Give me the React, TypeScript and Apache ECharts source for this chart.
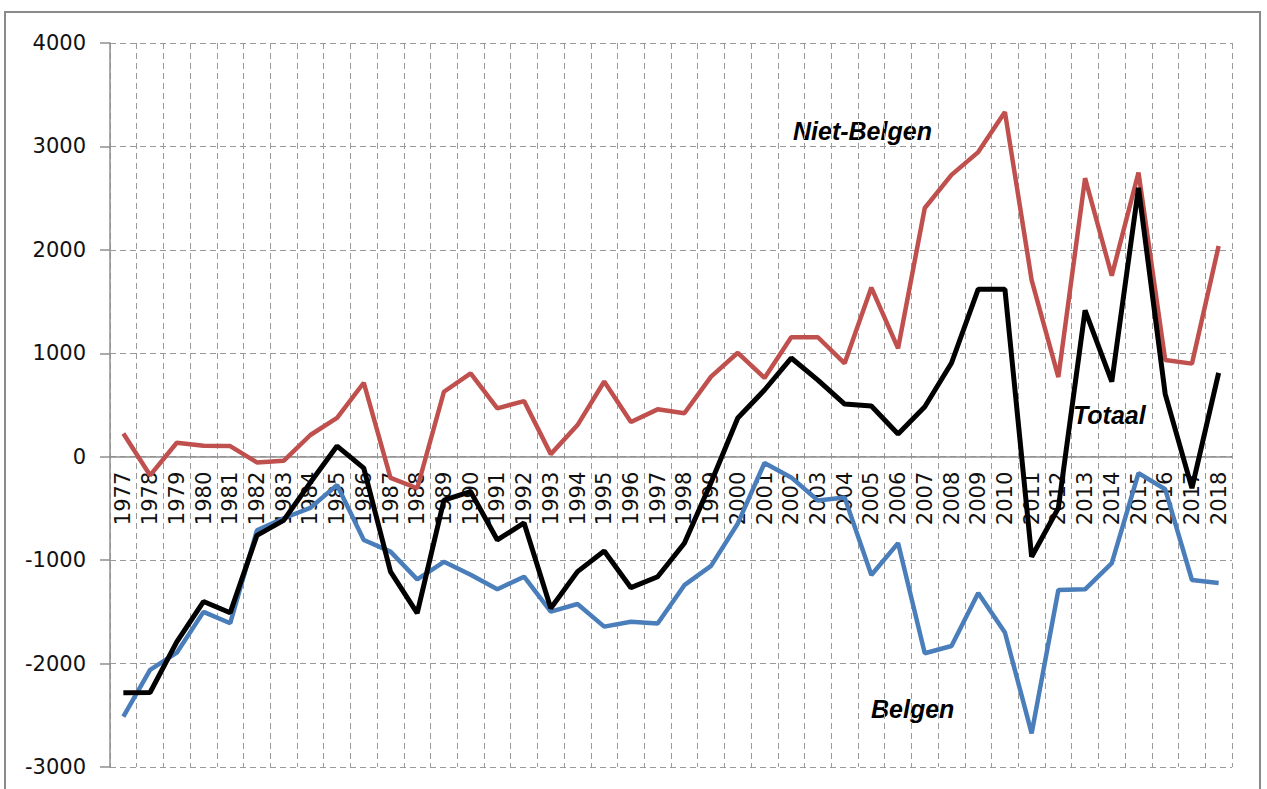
import React, { useEffect, useRef } from "react";
import * as echarts from "echarts";

const years = [
  "1977", "1978", "1979", "1980", "1981", "1982", "1983", "1984", "1985", "1986",
  "1987", "1988", "1989", "1990", "1991", "1992", "1993", "1994", "1995", "1996",
  "1997", "1998", "1999", "2000", "2001", "2002", "2003", "2004", "2005", "2006",
  "2007", "2008", "2009", "2010", "2011", "2012", "2013", "2014", "2015", "2016",
  "2017", "2018",
];

const nietBelgen = [
  225, -180, 135, 105, 103, -55, -40, 210, 375, 715,
  -205, -305, 628, 805, 468, 538, 25, 306, 727, 335,
  458, 420, 775, 1005, 762, 1155, 1155, 903, 1635, 1048,
  2405, 2725, 2945, 3333, 1708, 770, 2693, 1750, 2748, 935,
  900, 2037,
];

const belgen = [
  -2512, -2062, -1895, -1500, -1610, -712, -595, -495, -274, -805,
  -918, -1186, -1016, -1142, -1282, -1160, -1497, -1424, -1643, -1595,
  -1613, -1242, -1055, -645, -61, -200, -423, -395, -1144, -835,
  -1900, -1830, -1318, -1700, -2675, -1289, -1282, -1028, -158, -315,
  -1192, -1222,
];

const totaal = [
  -2282, -2280, -1790, -1400, -1508, -760, -615, -250, 103, -110,
  -1111, -1512, -419, -338, -805, -640, -1465, -1111, -912, -1266,
  -1160, -837, -250, 374, 645, 954, 741, 509, 490, 219,
  483, 906, 1620, 1620, -967, -496, 1415, 725, 2600, 605,
  -304, 810,
];

const seriesNames = ["Niet-Belgen", "Belgen", "Totaal"];

const yMin = -3000;
const yMax = 4000;

export default function App() {
  const ref = useRef<HTMLDivElement>(null);

  useEffect(() => {
    if (!ref.current) return;
    const chart = echarts.init(ref.current, null, { renderer: "svg" });
    const gridColor = "#9a9a9a";
    const labelFont = "'DejaVu Sans', Verdana, sans-serif";
    const gridTop = 43;
    const gridBottom = 22;
    const plotH = 789 - gridTop - gridBottom;
    // shift of the label axis from the bottom of the grid up to the zero line
    const zeroOffset = -plotH * (0 - yMin) / (yMax - yMin);
    const noteStyle = {
      fontFamily: "'Liberation Sans', Arial, sans-serif",
      fontSize: 25,
      fontWeight: "bold" as const,
      fontStyle: "italic" as const,
      fill: "#000",
      verticalAlign: "middle" as const,
    };
    chart.setOption({
      animation: false,
      backgroundColor: "#ffffff",
      grid: {
        left: 110,
        right: 35,
        top: gridTop,
        bottom: gridBottom,
        containLabel: false,
        outerBoundsMode: "none",
      },
      xAxis: [
        {
          type: "category",
          data: years,
          boundaryGap: true,
          axisLine: { onZero: true, lineStyle: { color: "#8f8f8f", width: 1.5 } },
          axisTick: { show: false },
          axisLabel: { show: false },
          splitLine: {
            show: true,
            interval: 0,
            lineStyle: { color: gridColor, type: [6, 4], width: 1 },
          },
        },
        {
          type: "category",
          data: years,
          boundaryGap: true,
          position: "bottom",
          offset: zeroOffset,
          axisLine: { show: false, onZero: false },
          axisTick: { show: false },
          splitLine: { show: false },
          axisLabel: {
            interval: 0,
            rotate: 90,
            margin: 15,
            fontSize: 21,
            color: "#111",
            fontFamily: labelFont,
          },
        },
      ],
      yAxis: {
        type: "value",
        min: yMin,
        max: yMax,
        interval: 1000,
        axisLine: { show: true, lineStyle: { color: "#8f8f8f", width: 1.5 } },
        axisTick: { show: true, length: 10, lineStyle: { color: "#8f8f8f", width: 1.5 } },
        axisLabel: {
          margin: 24,
          fontSize: 21,
          color: "#111",
          fontFamily: labelFont,
          formatter: (v: number) => String(v),
        },
        splitLine: {
          show: true,
          lineStyle: { color: gridColor, type: [6, 4], width: 1 },
        },
      },
      series: [
        {
          name: seriesNames[0],
          type: "line",
          data: nietBelgen,
          symbol: "none",
          lineStyle: { color: "#C0504D", width: 4.5 },
          z: 2,
        },
        {
          name: seriesNames[1],
          type: "line",
          data: belgen,
          symbol: "none",
          lineStyle: { color: "#4A7EBB", width: 4.5 },
          z: 3,
        },
        {
          name: seriesNames[2],
          type: "line",
          data: totaal,
          symbol: "none",
          lineStyle: { color: "#000000", width: 5 },
          z: 4,
        },
      ],
      graphic: [
        {
          type: "rect",
          silent: true,
          shape: { x: 5, y: 12, width: 1255, height: 800 },
          style: { fill: "none", stroke: "#8a8a8a", lineWidth: 2 },
          z: -10,
        },
        { type: "text", x: 793, y: 131, style: { ...noteStyle, text: seriesNames[0] } },
        { type: "text", x: 871, y: 709, style: { ...noteStyle, text: seriesNames[1] } },
        { type: "text", x: 1073, y: 415, style: { ...noteStyle, text: seriesNames[2] } },
      ],
    });
    return () => chart.dispose();
  }, []);

  return (
    <div
      ref={ref}
      style={{ position: "absolute", left: 0, top: 0, width: 1267, height: 789 }}
    />
  );
}
